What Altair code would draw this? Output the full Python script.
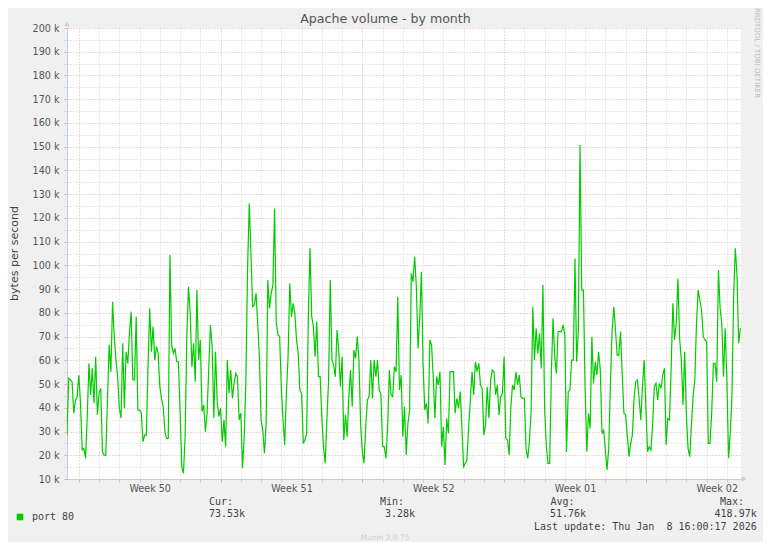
import altair as alt
import pandas as pd
from datetime import datetime, timedelta

# bytes per second, in thousands (k), one value every 2 hours
seg1 = [28.5, 52.4, 51.7, 51.0, 37.7, 43.0, 44.7, 53.8, 42.0, 22.2,
        22.9, 18.7, 36.3, 58.7, 45.4, 56.6, 41.9, 61.5, 37.0, 46.1,
        48.2, 21.5, 20.1, 20.1, 44.0, 66.5, 55.2, 84.7, 70.0, 60.0,
        53.1, 39.8, 35.6, 67.2, 39.8, 63.6, 58.7, 71.4, 80.5, 51.7,
        51.7, 78.4, 39.0, 39.0, 38.0, 25.7, 28.5, 28.5, 57.3, 81.9,
        63.6, 74.2, 60.1, 65.8, 62.9, 48.9, 44.0, 40.5, 29.9, 27.1,
        27.1, 104.4, 66.5, 62.9, 65.0, 59.4, 59.4, 39.0]
seg2 = [15.2, 12.4, 27.8, 70.7, 91.0, 79.8, 57.3, 67.2, 51.0, 89.6,
        60.1, 68.6, 38.4, 41.2, 29.9, 37.7, 56.6, 74.9, 65.8, 35.6,
        63.6, 42.6, 36.3, 39.8, 25.7, 34.9, 23.6, 60.1, 46.1, 55.9,
        44.0, 50.3, 54.5, 53.1, 34.9, 37.7, 14.5, 27.8, 51.7, 98.7,
        126.1, 105.1, 82.6, 83.3, 88.2, 75.6, 61.5, 34.9, 30.6, 20.8,
        33.4, 93.8, 81.9, 88.2, 91.7, 124.0, 75.6, 70.7, 70.0, 48.2,
        34.9, 24.3, 46.1, 61.5, 92.4, 78.4, 84.0]
seg3 = [79.8, 68.6, 62.9, 47.5, 46.1, 25.0, 26.4, 29.2, 78.4, 107.2,
        78.4, 74.2, 61.5, 76.3, 53.1, 53.1, 35.6, 23.6, 16.6, 34.9,
        51.7, 93.8, 60.1, 58.0, 53.1, 72.8, 64.3, 48.9, 61.5, 26.4,
        37.0, 27.8, 44.7, 55.9, 40.5, 64.3, 60.8, 70.0, 60.1, 32.7,
        21.5, 16.6, 32.0, 43.3, 44.7, 60.1, 44.0, 60.1, 53.1, 60.1,
        47.5, 46.1, 23.6, 23.6, 18.7, 32.0, 55.9, 45.4, 44.7, 57.3,
        55.2, 86.8, 47.5, 53.8, 27.8, 40.5]
seg4 = [20.1, 33.4, 39.1, 96.6, 93.1, 103.7, 91.0, 65.0, 77.7, 97.3,
        58.0, 39.1, 41.9, 33.4, 68.6, 66.5, 53.1, 35.6, 53.1, 49.6,
        55.2, 23.6, 32.0, 15.9, 35.6, 29.2, 55.2, 55.2, 55.2, 37.7,
        44.0, 39.8, 46.8, 32.0, 15.2, 16.6, 18.0, 32.0, 43.3, 55.2,
        45.4, 59.4, 55.2, 58.7, 49.6, 48.2, 28.5, 32.7, 48.9, 35.6,
        51.7, 55.9, 55.2, 45.4, 49.6, 37.0, 44.7, 46.1, 61.5, 27.1,
        26.4, 20.1, 40.5, 49.6, 47.5, 55.2]
seg5 = [49.6, 53.8, 44.7, 44.0, 44.0, 22.9, 18.7, 25.7, 38.4, 82.6,
        60.1, 73.5, 62.9, 71.4, 56.6, 91.7, 39.8, 24.3, 16.6, 16.6,
        54.5, 77.7, 61.5, 54.5, 72.1, 72.1, 72.1, 74.9, 70.7, 21.5,
        46.8, 47.5, 60.1, 60.1, 102.9, 59.4, 72.8, 150.7, 89.6, 89.6,
        48.2, 21.5, 37.7, 31.3, 69.9, 50.3, 59.4, 53.8, 63.6, 55.9,
        29.2, 30.6, 22.2, 13.8, 22.9, 50.3, 72.8, 82.6, 72.8, 62.2,
        62.2, 72.1, 53.8, 37.7, 37.0, 28.5, 19.4]
seg6 = [25.0, 28.5, 44.0, 51.0, 51.7, 44.0, 34.9, 48.9, 60.1, 40.5,
        21.5, 23.6, 22.2, 32.7, 48.9, 50.3, 43.3, 50.3, 48.2, 53.8,
        56.6, 24.3, 35.6, 34.9, 57.3, 84.0, 68.6, 75.6, 94.5, 69.3,
        60.1, 41.2, 63.6, 37.0, 22.9, 19.4, 32.7, 44.7, 51.7, 75.6,
        89.6, 85.4, 81.2, 70.0, 68.6, 67.9, 25.0, 25.0, 37.7, 58.7,
        58.7, 51.0, 98.0, 81.9, 75.6, 53.1, 73.5, 51.7, 18.7, 29.2,
        44.7, 86.8, 107.2, 95.9, 67.2, 73.5]

values_k = seg1 + seg2 + seg3 + seg4 + seg5 + seg6
start = datetime(2025, 12, 6, 10, 0)
times = [(start + timedelta(hours=2 * i)).strftime("%Y-%m-%dT%H:%M:%S")
         for i in range(len(values_k))]
df = pd.DataFrame({"time": times, "value": values_k, "series": "port 80"})

y_ticks = list(range(10, 201, 5))


def dt(d):
    return alt.DateTime(year=d.year, month=d.month, date=d.day, hours=d.hour)


first_day = datetime(2025, 12, 7)
day_lines = [first_day + timedelta(days=k) for k in range(33)]
week_mids = [datetime(2025, 12, 10, 12) + timedelta(days=7 * k) for k in range(5)]
x_ticks = [dt(d) for d in sorted(day_lines + week_mids)]

RED = "#eba9a9"
GREY = "#d0d0d0"
AXIS = "#c8c8f0"
FONT = "DejaVu Sans"
MONO = "DejaVu Sans Mono"

x_axis = alt.Axis(
    values=x_ticks, title=None, grid=True, gridDash=[1, 2],
    gridColor={"condition": {"test": "day(datum.value) == 0", "value": RED}, "value": GREY},
    gridOpacity={"condition": {"test": "hours(datum.value) == 0", "value": 1}, "value": 0},
    tickColor={"condition": {"test": "day(datum.value) == 0", "value": RED}, "value": GREY},
    tickOpacity={"condition": {"test": "hours(datum.value) == 0", "value": 1}, "value": 0},
    tickSize=3, domainColor=AXIS, labelPadding=1,
    labelExpr="hours(datum.value) == 12 ? 'Week ' + timeFormat(datum.value, '%V') : ''",
    labelOverlap=False, labelFlush=False, labelBound=False,
    labelFont=FONT, labelFontSize=9.6, labelColor="#555",
)

y_axis = alt.Axis(
    values=y_ticks, grid=True, gridDash=[1, 2],
    gridColor={"condition": {"test": "datum.value % 10 == 0", "value": RED}, "value": GREY},
    tickColor={"condition": {"test": "datum.value % 10 == 0", "value": RED}, "value": GREY},
    tickSize=3, domainColor=AXIS, labelPadding=5,
    labelExpr="datum.value % 10 == 0 ? datum.value + ' k' : ''",
    labelOverlap=False, labelFlush=False, labelBound=False,
    labelFont=FONT, labelFontSize=9.6, labelColor="#555",
    title="bytes per second", titleX=-53, titleY=225, titleAngle=270,
    titleAlign="center", titleBaseline="middle", titleFont=FONT,
    titleFontSize=11, titleFontWeight="normal", titleColor="#444",
)

line = alt.Chart(df).mark_line(
    interpolate="linear", strokeWidth=1.2, clip=True
).encode(
    x=alt.X("time:T", axis=x_axis,
            scale=alt.Scale(domain=[dt(datetime(2025, 12, 6, 10)),
                                    alt.DateTime(year=2026, month=1, date=8, hours=16, minutes=45)])),
    y=alt.Y("value:Q", axis=y_axis,
            scale=alt.Scale(domain=[10, 200], nice=False, zero=False)),
    color=alt.Color("series:N",
                    scale=alt.Scale(domain=["port 80"], range=["#00cc00"]),
                    legend=alt.Legend(orient="none", legendX=-52, legendY=484,
                                      title=None, symbolType="square",
                                      symbolSize=9, symbolStrokeWidth=3.6,
                                      symbolStrokeColor="#00cc00",
                                      symbolFillColor="#00cc00",
                                      labelFont=MONO, labelFontSize=10,
                                      labelColor="#444", labelOffset=7,
                                      padding=0)),
)

one = pd.DataFrame({"k": [0]})


def txt(s, x, y, align="left", size=10.0, color="#444", font=MONO, angle=0):
    return alt.Chart(one).mark_text(
        text=s, align=align, baseline="middle", font=font,
        fontSize=size, color=color, angle=angle
    ).encode(x=alt.value(x), y=alt.value(y))


texts = [
    txt("Apache volume - by month", 318.5, -9, align="center", size=12.6,
        color="#555", font=FONT),
    txt("RRDTOOL / TOBI OETIKER", 689.5, 25, align="center", size=7,
        color="#bbb", font=FONT, angle=90),
    txt("Cur:", 142, 474.3),
    txt("73.53k", 142, 486),
    txt("Min:", 313, 474.3),
    txt("3.28k", 318, 486),
    txt("Avg:", 483.5, 474.3),
    txt("51.76k", 483, 486),
    txt("Max:", 677, 474.3, align="right"),
    txt("418.97k", 689.7, 486, align="right"),
    txt("Last update: Thu Jan\u00a0 8 16:00:17 2026", 689.7, 499.3, align="right"),
    txt("Munin 2.0.75", 318, 510, align="center", size=7.5, color="#ccc", font=FONT),
]

arrows = [
    alt.Chart(one).mark_point(shape="triangle-up", filled=True, size=28,
                              color=AXIS, opacity=1)
    .encode(x=alt.value(0), y=alt.value(-4)),
    alt.Chart(one).mark_point(shape="triangle-right", filled=True, size=28,
                              color=AXIS, opacity=1)
    .encode(x=alt.value(677), y=alt.value(451)),
]

chart = alt.layer(line, *arrows, *texts).properties(
    width=674, height=451,
    autosize=alt.AutoSizeParams(type="none"),
    padding={"left": 59, "top": 20, "right": 22, "bottom": 63},
    background="#f0f0f0",
).configure_view(fill="white", strokeWidth=0)

chart.save("out.html", embed_options={"renderer": "svg", "actions": False})
